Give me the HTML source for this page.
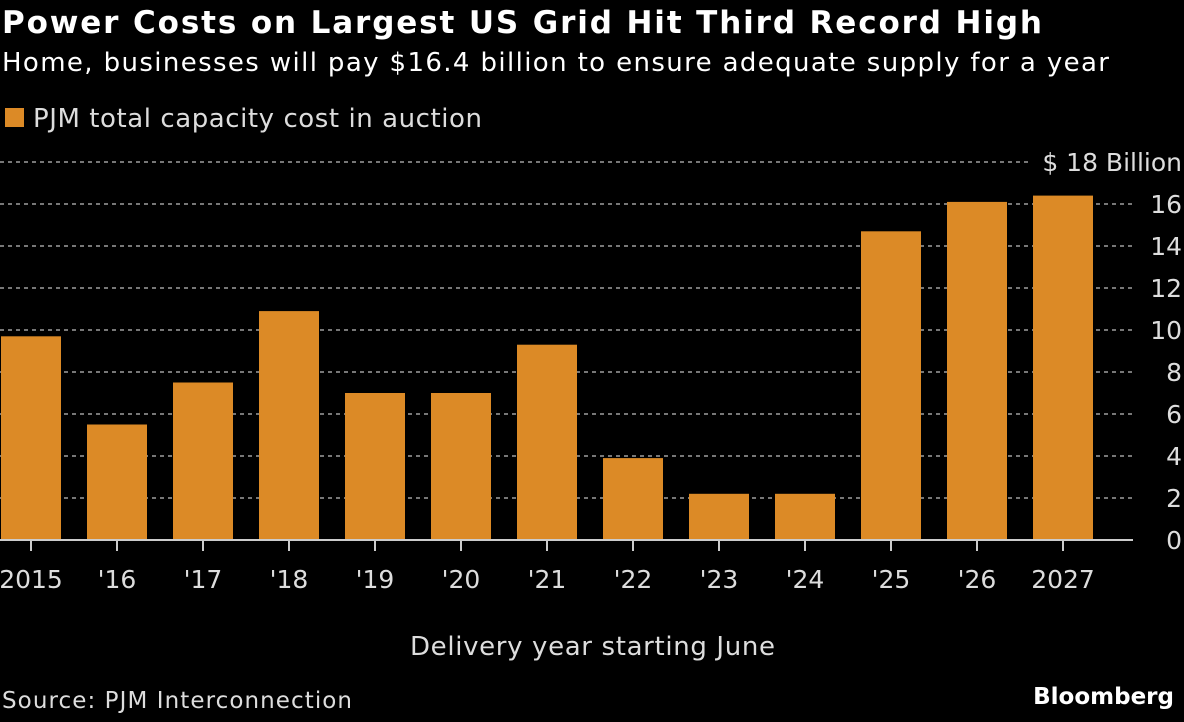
<!DOCTYPE html>
<html><head><meta charset="utf-8"><style>
body{margin:0;background:#000;width:1184px;height:718px;overflow:hidden;font-family:"DejaVu Sans","Liberation Sans",sans-serif;}
svg text{font-family:"DejaVu Sans","Liberation Sans",sans-serif;}
</style></head><body>
<svg id="c" width="1184" height="718" xmlns="http://www.w3.org/2000/svg">
<text x="2" y="33" fill="#fff" font-size="31" font-weight="bold" textLength="1040" lengthAdjust="spacing">Power Costs on Largest US Grid Hit Third Record High</text>
<text x="2" y="71" fill="#fff" font-size="26" textLength="1107" lengthAdjust="spacing">Home, businesses will pay $16.4 billion to ensure adequate supply for a year</text>
<rect x="5" y="108" width="19" height="19" fill="#dc8a26"/>
<text x="33" y="127" fill="#ddd" font-size="26" textLength="449" lengthAdjust="spacing">PJM total capacity cost in auction</text>
<g id="grid"></g><g id="bars"></g><g id="xaxis"></g>
<text x="410" y="655" fill="#ddd" font-size="26" textLength="365" lengthAdjust="spacing">Delivery year starting June</text>
<text x="2" y="708" fill="#ddd" font-size="23" textLength="350" lengthAdjust="spacing">Source: PJM Interconnection</text>
<text x="1174" y="704" fill="#fff" font-size="23" font-weight="bold" text-anchor="end">Bloomberg</text>
</svg>
<script>
const categories=["2015","'16","'17","'18","'19","'20","'21","'22","'23","'24","'25","'26","2027"];
const values=[9.7,5.5,7.5,10.9,7.0,7.0,9.3,3.9,2.2,2.2,14.7,16.1,16.4];
const yTicks=[0,2,4,6,8,10,12,14,16,18];
const NS="http://www.w3.org/2000/svg";
function y(v){return 540-v*21;}
function xc(i){return 31+86*i;}
function mk(tag,attrs,parent){const e=document.createElementNS(NS,tag);for(const k in attrs)e.setAttribute(k,attrs[k]);parent.appendChild(e);return e;}
const grid=document.getElementById('grid'),bars=document.getElementById('bars'),xa=document.getElementById('xaxis');
yTicks.forEach((t,k)=>{
  const top=k===yTicks.length-1;
  if(t>0){const l=mk('line',{x1:0,x2:top?1030:1133,y1:y(t),y2:y(t),stroke:'#777','stroke-width':2,'stroke-dasharray':'4,4'},grid);
  
  }
  const tx=mk('text',{x:1182,y:y(t)+9,fill:'#ddd','font-size':25,'text-anchor':'end'},grid);
  tx.textContent=top?'$ '+t+' Billion':String(t);
  
  
});
categories.forEach((c,i)=>{
  const r=mk('rect',{x:xc(i)-30,y:y(values[i]),width:60,height:540-y(values[i]),fill:'#dc8a26'},bars);
  
  
  const tk=mk('line',{x1:xc(i),x2:xc(i),y1:540,y2:551,stroke:'#ccc','stroke-width':2},xa);
  
  
  const tl=mk('text',{x:xc(i),y:588,fill:'#ddd','font-size':25,'text-anchor':'middle'},xa);
  tl.textContent=c;
  
  
});
const base=mk('line',{x1:0,x2:1133,y1:540,y2:540,stroke:'#ccc','stroke-width':2},xa);


</script>
</body></html>
